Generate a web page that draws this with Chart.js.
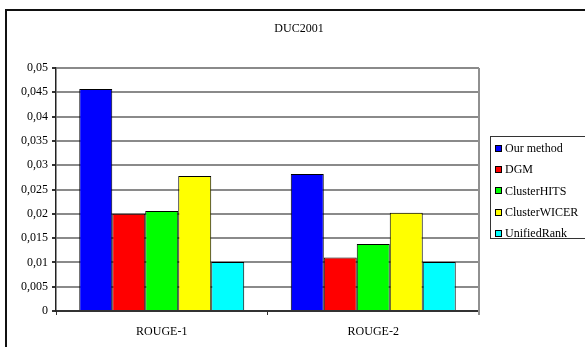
<!DOCTYPE html>
<html>
<head>
<meta charset="utf-8">
<script src="https://cdn.jsdelivr.net/npm/chart.js@4/dist/chart.umd.min.js"></script>
<style>
  html, body { margin: 0; padding: 0; background: #ffffff; }
  #wrap { width: 585px; height: 347px; position: relative; }
</style>
</head>
<body>
<div id="wrap"><canvas id="c"></canvas></div>
<script>
// ROUGE scores on DUC2001 per summarisation method
const chartTitle = 'DUC2001';
const categories = ['ROUGE-1', 'ROUGE-2'];
const seriesNames = ['Our method', 'DGM', 'ClusterHITS', 'ClusterWICER', 'UnifiedRank'];
const ourMethod    = [0.0457, 0.0282];
const dgm          = [0.0200, 0.0110];
const clusterHITS  = [0.0206, 0.0138];
const clusterWICER = [0.0278, 0.0202];
const unifiedRank  = [0.0101, 0.0101];
const yTickLabels = ['0', '0,005', '0,01', '0,015', '0,02', '0,025', '0,03', '0,035', '0,04', '0,045', '0,05'];

const seriesValues = [ourMethod, dgm, clusterHITS, clusterWICER, unifiedRank];
const seriesColors = ['#0000ff', '#ff0000', '#00ff00', '#ffff00', '#00ffff'];
const FONT = 'Liberation Serif, Times New Roman, serif';

// Frame, title, plot-area right edge and the boxed legend
const decorations = {
  id: 'decorations',
  beforeDraw(chart) {
    const ctx = chart.ctx;
    ctx.save();
    ctx.fillStyle = '#ffffff';
    ctx.fillRect(0, 0, chart.width, chart.height);
    ctx.restore();
  },
  afterDraw(chart) {
    const ctx = chart.ctx;
    const area = chart.chartArea;
    ctx.save();
    // outer frame
    ctx.strokeStyle = '#111111';
    ctx.lineWidth = 2;
    ctx.beginPath();
    ctx.moveTo(6, chart.height + 2);
    ctx.lineTo(6, 10);
    ctx.lineTo(chart.width + 2, 10);
    ctx.stroke();
    // right edge of plot area
    ctx.strokeStyle = '#909090';
    ctx.lineWidth = 2;
    ctx.beginPath();
    ctx.moveTo(area.right, area.top);
    ctx.lineTo(area.right, area.bottom + 4);
    ctx.stroke();
    // title
    ctx.fillStyle = '#000000';
    ctx.font = '12px ' + FONT;
    ctx.textAlign = 'center';
    ctx.textBaseline = 'middle';
    ctx.fillText(chartTitle, 299, 29);
    // legend
    ctx.strokeStyle = '#333333';
    ctx.lineWidth = 1;
    ctx.strokeRect(490.5, 136.5, 110, 102);
    ctx.textAlign = 'left';
    chart.data.datasets.forEach((ds, i) => {
      const cy = 148 + i * 21.2;
      ctx.fillStyle = ds.backgroundColor;
      ctx.fillRect(495, Math.round(cy - 3) , 7, 7);
      ctx.strokeStyle = '#000000';
      ctx.strokeRect(495.5, Math.round(cy - 3) + 0.5, 6, 6);
      ctx.fillStyle = '#000000';
      ctx.fillText(ds.label, 505, cy + 1);
    });
    ctx.restore();
  }
};

new Chart(document.getElementById('c'), {
  type: 'bar',
  data: {
    labels: categories,
    datasets: seriesNames.map((name, i) => ({
      label: name,
      data: seriesValues[i],
      backgroundColor: seriesColors[i],
      borderColor: '#000000',
      borderWidth: 1,
      categoryPercentage: 0.78,
      barPercentage: 1.0
    }))
  },
  options: {
    responsive: true,
    maintainAspectRatio: false,
    animation: false,
    devicePixelRatio: 1,
    layout: { padding: { left: 0, top: 68, right: 106, bottom: 0 } },
    plugins: {
      legend: { display: false },
      title: { display: false },
      tooltip: { enabled: false }
    },
    scales: {
      x: {
        offset: true,
        grid: {
          offset: true,
          drawOnChartArea: false,
          drawTicks: true,
          tickLength: 4,
          tickColor: '#333333'
        },
        border: { display: true, color: '#333333', width: 2 },
        ticks: {
          color: '#000000',
          padding: 10,
          font: { family: FONT, size: 12 }
        },
        afterFit(scale) { scale.height = 36; }
      },
      y: {
        min: 0,
        max: 0.05,
        ticks: {
          stepSize: 0.005,
          color: '#000000',
          padding: 4,
          font: { family: FONT, size: 12 },
          callback: (v, i) => yTickLabels[i]
        },
        grid: {
          color: (c) => (c.index === 0 ? '#333333' : '#8a8a8a'),
          lineWidth: 2,
          tickLength: 4,
          tickColor: '#333333'
        },
        border: { display: true, color: '#222222', width: 1.5 },
        afterFit(scale) { scale.width = 56; }
      }
    }
  },
  plugins: [decorations]
});
</script>
</body>
</html>
